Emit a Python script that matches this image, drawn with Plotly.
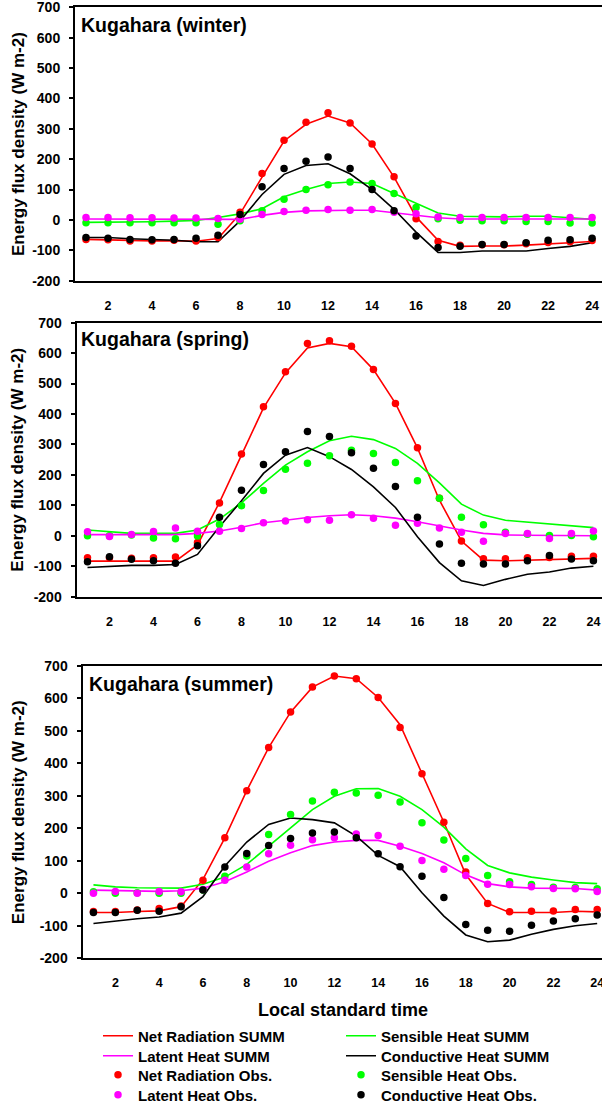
import plotly.graph_objects as go

hours = list(range(1, 25))
x_ticks = [2, 4, 6, 8, 10, 12, 14, 16, 18, 20, 22, 24]
y_ticks = [-200, -100, 0, 100, 200, 300, 400, 500, 600, 700]
y_ticktext = ["-200", "-100", "0", "100", "200", "300", "400", "500", "600", "700"]
zero_ticks = [0.5, 2.5, 4.5, 6.5, 8.5, 10.5, 12.5, 14.5, 16.5, 18.5, 20.5, 22.5, 24.5]

titles = ["Kugahara (winter)", "Kugahara (spring)", "Kugahara (summer)"]
series_names = ["Net Radiation", "Sensible Heat", "Latent Heat", "Conductive Heat"]
colors = ["#FF0000", "#00FF00", "#FF00FF", "#000000"]

# ---- winter ----
w_net_summ = [-64, -66, -68, -69, -68, -70, -61, 20, 141, 260, 315, 342, 319, 250, 141, 10, -67, -87, -86, -86, -83, -78, -75, -71]
w_sen_summ = [-8, -8, -8, -6, -4, -2, 8, 20, 37, 76, 100, 120, 125, 120, 87, 54, 23, 12, 10, 10, 12, 12, 7, 2]
w_lat_summ = [3, 3, 3, 3, 2, 2, 2, 2, 15, 25, 30, 32, 32, 32, 24, 15, 7, 3, 3, 3, 3, 3, 3, 3]
w_con_summ = [-58, -58, -62, -64, -67, -72, -72, -3, 84, 150, 179, 185, 152, 100, 35, -40, -107, -107, -102, -102, -102, -94, -87, -75]
w_net_obs = [-64, -65, -69, -69, -67, -69, -58, 25, 153, 262, 322, 353, 319, 250, 142, 4, -71, -83, -82, -82, -78, -74, -72, -68]
w_sen_obs = [-9, -9, -9, -9, -9, -9, -14, -3, 30, 68, 100, 116, 125, 120, 87, 41, 4, -1, -3, -3, -5, -5, -10, -10]
w_lat_obs = [8, 8, 7, 7, 6, 6, 5, 2, 18, 28, 32, 34, 32, 34, 25, 20, 10, 8, 8, 8, 8, 8, 8, 8]
w_con_obs = [-58, -60, -64, -65, -64, -60, -50, 18, 109, 169, 193, 207, 169, 100, 30, -53, -91, -87, -81, -81, -75, -67, -65, -60]

# ---- spring ----
s_net_summ = [-83, -83, -83, -83, -83, -30, 110, 265, 420, 535, 617, 632, 621, 546, 435, 289, 117, -17, -80, -82, -80, -78, -74, -74]
s_sen_summ = [19, 13, 8, 8, 8, 19, 55, 108, 172, 232, 276, 312, 327, 316, 287, 238, 174, 104, 68, 51, 45, 39, 34, 27]
s_lat_summ = [4, 4, 4, 4, 4, 8, 16, 28, 43, 51, 60, 66, 69, 66, 58, 46, 32, 19, 8, 3, 2, 1, 0, 0]
s_con_summ = [-104, -100, -97, -97, -94, -61, 30, 115, 205, 265, 290, 260, 218, 161, 93, -3, -88, -148, -163, -143, -126, -119, -106, -100]
s_net_obs = [-72, -72, -74, -72, -70, -22, 108, 269, 424, 539, 632, 641, 623, 546, 435, 289, 123, -17, -75, -75, -72, -71, -67, -67]
s_sen_obs = [0, 0, 3, -7, -10, -1, 37, 99, 149, 219, 238, 263, 281, 270, 241, 181, 123, 61, 36, 12, 5, 1, 1, -3]
s_lat_obs = [13, -2, 4, 14, 26, 15, 15, 24, 43, 49, 53, 51, 69, 58, 35, 41, 26, 12, -18, 8, 8, -9, 8, 16]
s_con_obs = [-85, -69, -77, -82, -90, -33, 61, 150, 234, 276, 343, 326, 273, 222, 162, 61, -27, -90, -93, -93, -82, -65, -76, -82]

# ---- summer ----
u_net_summ = [-59, -59, -56, -54, -41, 43, 171, 316, 449, 558, 635, 669, 661, 603, 519, 368, 219, 58, -31, -59, -59, -59, -55, -57]
u_sen_summ = [26, 20, 17, 16, 16, 28, 50, 89, 145, 200, 258, 299, 322, 323, 299, 258, 204, 137, 86, 63, 50, 41, 33, 30]
u_lat_summ = [10, 8, 6, 6, 8, 16, 36, 66, 99, 125, 147, 158, 163, 163, 145, 123, 94, 57, 30, 20, 16, 15, 15, 10]
u_con_summ = [-93, -85, -78, -73, -61, -10, 84, 158, 212, 232, 227, 217, 176, 117, 82, 2, -70, -128, -149, -144, -126, -111, -100, -93]
u_net_obs = [-56, -56, -51, -47, -39, 40, 171, 316, 449, 558, 635, 669, 661, 603, 511, 368, 219, 66, -31, -57, -55, -54, -50, -50]
u_sen_obs = [5, 0, 2, 0, 0, 10, 53, 115, 181, 243, 284, 311, 309, 302, 281, 217, 164, 107, 55, 36, 27, 19, 18, 14]
u_lat_obs = [0, 6, 0, 6, 5, 12, 40, 81, 122, 148, 165, 171, 183, 178, 145, 101, 74, 55, 28, 27, 20, 15, 14, 6]
u_con_obs = [-59, -59, -52, -55, -41, 10, 81, 123, 147, 169, 186, 189, 171, 122, 82, 53, -13, -96, -114, -117, -98, -85, -78, -67]

panels = [
    (w_net_summ, w_sen_summ, w_lat_summ, w_con_summ, w_net_obs, w_sen_obs, w_lat_obs, w_con_obs),
    (s_net_summ, s_sen_summ, s_lat_summ, s_con_summ, s_net_obs, s_sen_obs, s_lat_obs, s_con_obs),
    (u_net_summ, u_sen_summ, u_lat_summ, u_con_summ, u_net_obs, u_sen_obs, u_lat_obs, u_con_obs),
]

W, H = 602, 1111
FONT = "Liberation Sans, Arial, sans-serif"

# layout geometry in pixels: (left, top, bottom, x_range_end)
geom = [
    (75.0, 7.3, 280.7, 24.45),
    (76.5, 322.7, 596.7, 24.39),
    (82.5, 666.0, 958.3, 24.22),
]
title_pos = [(79.0, 25.5), (79.0, 339.5), (87.0, 684.0)]

legend_ids = ["legend", "legend2", "legend3", "legend4", "legend5", "legend6", "legend7", "legend8"]
col_x = [98, 341]
row_y = [1036, 1056, 1075, 1095]
slot_of = [(0, 0), (0, 1), (1, 0), (1, 1), (2, 0), (2, 1), (3, 0), (3, 1)]

fig = go.Figure()

for p, data in enumerate(panels):
    xa = "x" if p == 0 else f"x{p + 1}"
    ya = "y" if p == 0 else f"y{p + 1}"
    for k in range(4):
        fig.add_trace(go.Scatter(
            x=hours, y=data[k], mode="lines",
            line=dict(color=colors[k], width=1.6),
            name=f"{series_names[k]} SUMM",
            xaxis=xa, yaxis=ya, showlegend=(p == 2), legend=legend_ids[k],
        ))
    for k in range(4):
        fig.add_trace(go.Scatter(
            x=hours, y=data[4 + k], mode="markers",
            marker=dict(color=colors[k], size=7.5),
            name=f"{series_names[k]} Obs.",
            xaxis=xa, yaxis=ya, showlegend=(p == 2), legend=legend_ids[4 + k],
        ))

layout = dict(
    width=W, height=H,
    margin=dict(l=0, r=0, t=0, b=0, autoexpand=False),
    paper_bgcolor="white", plot_bgcolor="white",
    font=dict(family=FONT, color="black", weight="bold"),
    showlegend=True,
)

annotations = []
for p, (left, top, bottom, xr) in enumerate(geom):
    sfx = "" if p == 0 else str(p + 1)
    y0 = 1 - bottom / H
    y1 = 1 - top / H
    layout[f"xaxis{sfx}"] = dict(
        domain=[left / W, 1], range=[0.5, xr], anchor=f"y{sfx}",
        showline=True, mirror=True, linecolor="black", linewidth=2,
        ticks="", tickvals=x_ticks, showgrid=False, zeroline=False,
        tickfont=dict(family=FONT, size=12.5, color="black", weight="bold"),
        ticklabelstandoff=12, ticklabeloverflow="allow",
    )
    layout[f"yaxis{sfx}"] = dict(
        domain=[y0, y1], range=[-200, 700], anchor=f"x{sfx}",
        showline=True, mirror=False, linecolor="black", linewidth=2,
        ticks="outside", ticklen=4, tickwidth=1.5, tickcolor="black",
        tickvals=y_ticks, ticktext=y_ticktext, showgrid=False, zeroline=False,
        tickfont=dict(family=FONT, size=14, color="black", weight="bold"),
        ticklabelstandoff=6, ticklabeloverflow="allow",
    )
    # category-boundary axis drawn along y = 0
    zsfx = str(p + 4)
    layout[f"xaxis{zsfx}"] = dict(
        overlaying=f"x{sfx}", anchor="free",
        position=y0 + (y1 - y0) * (200 / 900),
        domain=[left / W, 1], range=[0.5, xr],
        showline=True, linecolor="black", linewidth=1.6,
        ticks="outside", ticklen=5, tickwidth=1.5, tickcolor="black",
        tickvals=zero_ticks, showticklabels=False,
        showgrid=False, zeroline=False,
    )
    tx, ty = title_pos[p]
    annotations.append(dict(
        text=titles[p], x=tx / W, y=1 - ty / H, xref="paper", yref="paper",
        xanchor="left", yanchor="middle", showarrow=False,
        font=dict(family=FONT, size=19.5, color="black", weight="bold"),
    ))
    annotations.append(dict(
        text="Energy flux density (W m-2)", x=18 / W, y=1 - (top + bottom) / 2 / H,
        xref="paper", yref="paper", xanchor="center", yanchor="middle",
        textangle=-90, showarrow=False,
        font=dict(family=FONT, size=17, color="black", weight="bold"),
    ))

annotations.append(dict(
    text="Local standard time", x=343 / W, y=1 - 1010 / H, xref="paper", yref="paper",
    xanchor="center", yanchor="middle", showarrow=False,
    font=dict(family=FONT, size=18, color="black", weight="bold"),
))
layout["annotations"] = annotations

for i, lid in enumerate(legend_ids):
    r, c = slot_of[i]
    layout[lid] = dict(
        orientation="v", yanchor="middle", xanchor="left",
        x=col_x[c] / W, y=1 - row_y[r] / H,
        bgcolor="rgba(0,0,0,0)", borderwidth=0, tracegroupgap=0,
        font=dict(family=FONT, size=15, color="black", weight="bold"),
        itemwidth=30,
    )

fig.update_layout(**layout)
fig.write_html(
    "out.html",
    config={"displayModeBar": False},
    post_script="document.body.style.margin='0';document.body.style.padding='0';document.body.style.overflow='hidden';",
)
